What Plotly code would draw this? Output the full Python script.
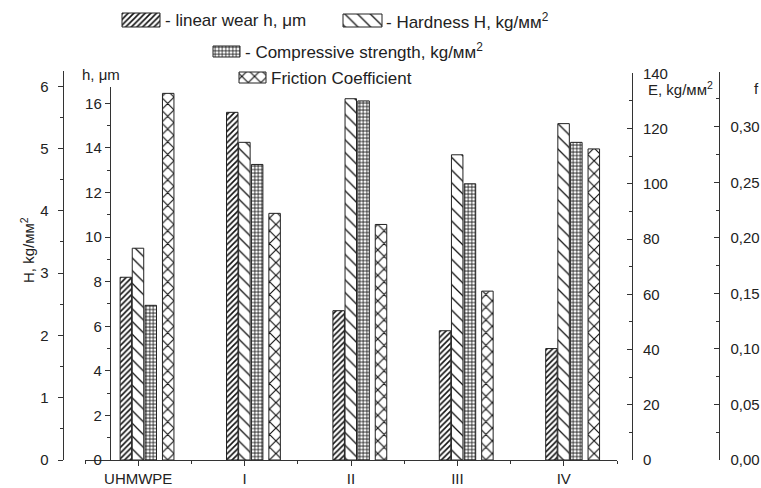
import plotly.graph_objects as go

# ---- data -------------------------------------------------------------
groups = ["UHMWPE", "I", "II", "III", "IV"]
wear_um = [8.2, 15.6, 6.7, 5.8, 5.0]            # linear wear h, um
hardness = [3.4, 5.1, 5.8, 4.9, 5.4]            # hardness H, kg/mm2
compressive = [56, 107, 130, 100, 115]          # compressive strength E, kg/mm2
friction = [0.330, 0.222, 0.212, 0.152, 0.280]  # friction coefficient f

# ---- page geometry ----------------------------------------------------
W, H = 761, 488
INK = "#222222"
AXIS = "#333333"
FONT = "Liberation Sans, Arial, sans-serif"


def fx(px):
    return px / W


def fy(py):
    return 1 - py / H


BASE = 460
xpos = list(range(len(groups)))
BAR_W = 0.108

# hatch styles for the four series
styles = {
    "wear": dict(shape="/", size=4, solidity=0.4),
    "hard": dict(shape="\\", size=9, solidity=0.14),
    "comp": dict(shape="+", size=3.5, solidity=0.4),
    "fric": dict(shape="x", size=9, solidity=0.24),
}


def marker(key):
    return dict(
        color="white",
        line=dict(color=INK, width=1),
        pattern=dict(fgcolor="#111111", bgcolor="white", fillmode="replace", **styles[key]),
    )


fig = go.Figure()

series = [
    ("wear", wear_um, "y", -0.170),
    ("hard", hardness, "y2", -0.056),
    ("comp", compressive, "y3", 0.064),
    ("fric", friction, "y4", 0.228),
]
for key, vals, yax, off in series:
    fig.add_trace(go.Bar(
        x=xpos, y=vals, xaxis="x", yaxis=yax,
        width=BAR_W, offset=off, marker=marker(key),
        showlegend=False, hoverinfo="skip",
    ))

# legend swatches drawn on a hidden pixel-space axis pair
swatches = [
    ("wear", (122, 13, 160, 27)),
    ("hard", (343, 14, 382, 27)),
    ("comp", (213, 46, 240, 57)),
    ("fric", (239, 72, 266, 83)),
]
for key, (x0, y0, x1, y1) in swatches:
    fig.add_trace(go.Bar(
        x=[(x0 + x1) / 2], y=[y1 - y0], base=[y0], width=[x1 - x0],
        xaxis="x5", yaxis="y5", marker=marker(key),
        showlegend=False, hoverinfo="skip",
    ))

legend_text = [
    (163, 20, "- linear wear h, \u03bcm"),
    (384, 21, "- Hardness H, kg/\u043c\u043c<sup>2</sup>"),
    (243, 51, "- Compressive strength, kg/\u043c\u043c<sup>2</sup>"),
    (269, 78, "Friction Coefficient"),
]
annotations = []
for x, y, t in legend_text:
    annotations.append(dict(
        x=fx(x), y=fy(y), xref="paper", yref="paper", text=t, showarrow=False,
        xanchor="left", yanchor="middle", font=dict(size=17, color=INK, family=FONT),
    ))

# axis titles
annotations += [
    dict(x=fx(101), y=fy(75), xref="paper", yref="paper", text="h, \u03bcm", showarrow=False,
         xanchor="center", yanchor="middle", font=dict(size=15, color=INK, family=FONT)),
    dict(x=fx(28), y=fy(250), xref="paper", yref="paper", text="H, kg/\u043c\u043c<sup>2</sup>",
         textangle=-90, showarrow=False, xanchor="center", yanchor="middle",
         font=dict(size=15, color=INK, family=FONT)),
    dict(x=fx(646), y=fy(89), xref="paper", yref="paper", text="E, kg/\u043c\u043c<sup>2</sup>",
         showarrow=False, xanchor="left", yanchor="middle", font=dict(size=15, color=INK, family=FONT)),
    dict(x=fx(752), y=fy(89), xref="paper", yref="paper", text="f", showarrow=False,
         xanchor="left", yanchor="middle", font=dict(size=15, color=INK, family=FONT)),
]

tickfont = dict(size=15, color=INK, family=FONT)
common_y = dict(
    anchor="free", showline=True, linecolor=AXIS, linewidth=1.4, showgrid=False,
    zeroline=False, tickfont=tickfont, tickcolor=AXIS, tickwidth=1.2, ticklen=5,
    automargin=False,
)

fig.update_layout(
    width=W, height=H,
    margin=dict(l=0, r=0, t=0, b=0, pad=0, autoexpand=False),
    paper_bgcolor="white", plot_bgcolor="rgba(0,0,0,0)",
    separators=",.",
    barmode="overlay",
    showlegend=False,
    font=dict(family=FONT, color=INK),
    annotations=annotations,
    xaxis=dict(
        domain=[fx(85), fx(617)], range=[-0.5, 4.5], anchor="free", position=fy(BASE),
        tickmode="array", tickvals=xpos, ticktext=groups,
        ticks="outside", ticklen=5, tickwidth=1.2, tickcolor=AXIS,
        minor=dict(ticks="outside", ticklen=3, dtick=0.5, tick0=0, tickcolor=AXIS, tickwidth=1.2),
        showline=True, linecolor=AXIS, linewidth=1.4, showgrid=False, zeroline=False,
        tickfont=tickfont, ticklabelstandoff=0, automargin=False,
    ),
    yaxis=dict(
        domain=[fy(BASE), fy(86.7)], range=[0, 16.75], position=fx(110), side="left",
        tickmode="linear", tick0=0, dtick=2, ticks="outside",
        minor=dict(ticks="outside", ticklen=3, dtick=1, tickcolor=AXIS, tickwidth=1.2),
        **common_y,
    ),
    yaxis2=dict(
        domain=[fy(BASE), fy(70.7)], range=[0, 6.25], position=fx(62.7), side="left",
        tickmode="linear", tick0=0, dtick=1, ticks="outside",
        minor=dict(ticks="outside", ticklen=3, dtick=0.5, tickcolor=AXIS, tickwidth=1.2),
        ticklabelstandoff=6,
        **common_y,
    ),
    yaxis3=dict(
        domain=[fy(BASE), fy(73.3)], range=[0, 140], position=fx(631.7), side="right",
        tickmode="linear", tick0=0, dtick=20, ticks="inside",
        minor=dict(ticks="inside", ticklen=3, dtick=10, tickcolor=AXIS, tickwidth=1.2),
        ticklabelstandoff=7,
        **common_y,
    ),
    yaxis4=dict(
        domain=[fy(BASE), fy(71.7)], range=[0, 0.3495], position=fx(719.3), side="right",
        tickmode="linear", tick0=0, dtick=0.05, tickformat=".2f", ticks="inside",
        minor=dict(ticks="inside", ticklen=3, dtick=0.025, tickcolor=AXIS, tickwidth=1.2),
        ticklabelstandoff=7,
        **common_y,
    ),
    xaxis5=dict(domain=[0, 1], range=[0, W], visible=False, anchor="y5", fixedrange=True),
    yaxis5=dict(domain=[0, 1], range=[H, 0], visible=False, anchor="x5", fixedrange=True),
)

fig.write_html("out.html")
